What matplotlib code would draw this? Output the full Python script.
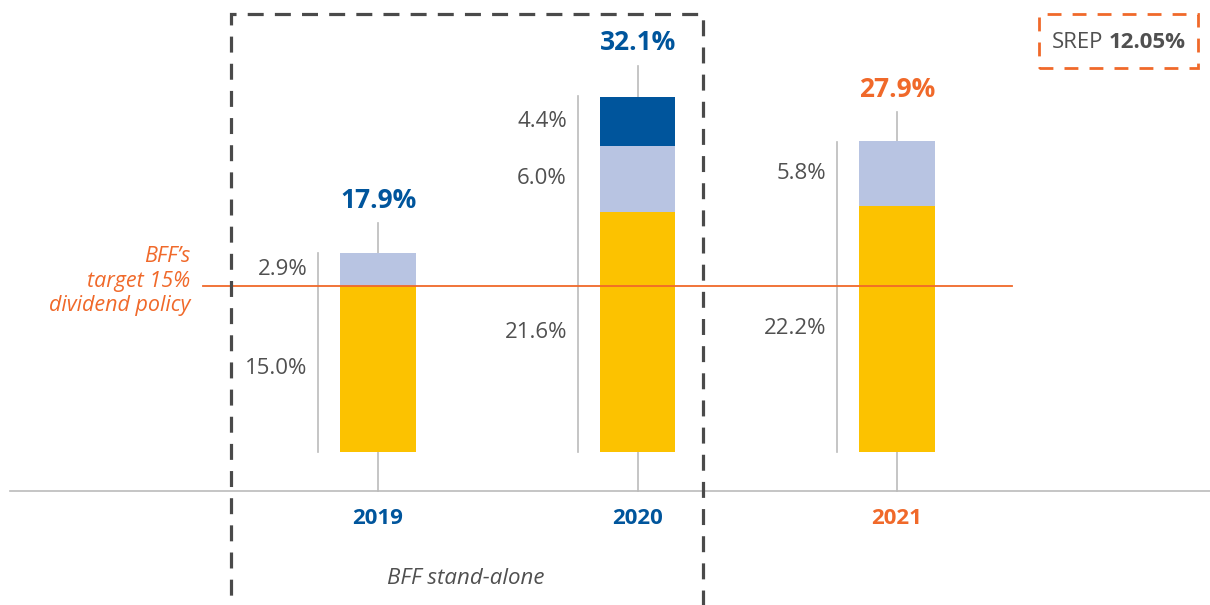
import matplotlib
matplotlib.use("Agg")
from matplotlib import pyplot as plt
from matplotlib.patches import Rectangle
import numpy as np

plt.rcParams['font.family'] = ['Open Sans', 'DejaVu Sans']

years = ['2019', '2020', '2021']
base = [15.0, 21.6, 22.2]
mid = [2.9, 6.0, 5.8]
top = [0.0, 4.4, 0.0]
totals = [17.9, 32.1, 27.9]
target = 15.0
srep = '12.05%'

YELLOW = '#FCC200'
LIGHT = '#B8C4E2'
DARK = '#00559C'
ORANGE = '#F0692A'
GREY_TXT = '#505050'
GREY_LN = '#BBBBBB'
year_colors = [DARK, DARK, ORANGE]

fig = plt.figure(figsize=(12.1, 6.05), dpi=100)
ax = fig.add_axes([0, 0, 1, 1])
ax.set_xlim(-1.457, 3.206)
ax.set_ylim(-13.78, 40.72)
ax.axis('off')

x = np.arange(len(years))
w = 0.29
axis_y = -3.5

# axis line
ax.plot([-1.42, 3.3], [axis_y, axis_y], color=GREY_LN, lw=1.2, zorder=1)

# center lines and bracket lines
for i in x:
    ax.plot([i, i], [axis_y, totals[i] + 2.7], color=GREY_LN, lw=1.2, zorder=1)
    bx = i - w / 2 - 0.085
    ax.plot([bx, bx], [0, totals[i]], color=GREY_LN, lw=1.2, zorder=1)

ax.bar(x, base, w, color=YELLOW, zorder=2)
ax.bar(x, mid, w, bottom=base, color=LIGHT, zorder=2)
b2 = np.array(base) + np.array(mid)
ax.bar(x, top, w, bottom=b2, color=DARK, zorder=2)

# segment labels
for i in x:
    lx = i - w / 2 - 0.085 - 0.042
    segs = [(0, base[i]), (base[i], mid[i]), (b2[i], top[i])]
    for bot, h in segs:
        if h > 0:
            ax.text(lx, bot + h / 2, f'{h:.1f}%', ha='right', va='center',
                    fontsize=16, color=GREY_TXT, zorder=3)
    ax.text(i, totals[i] + 4.8, f'{totals[i]:.1f}%', ha='center', va='center',
            fontsize=19, fontweight='bold', color=year_colors[i], zorder=3)
    ax.text(i, -6.0, years[i], ha='center', va='center', fontsize=16,
            fontweight='bold', color=year_colors[i], zorder=3)

# target line
ax.plot([-0.674, 2.443], [target, target], color=ORANGE, lw=1.3, zorder=4)
ax.text(-0.722, target + 0.4, "BFF\u2019s\ntarget 15%\ndividend policy", ha='right',
        va='center', fontsize=15.5, style='italic', color=ORANGE,
        linespacing=1.2, zorder=3)

# stand-alone dashed box
ax.add_patch(Rectangle((231 / 1210, -0.2), (703 - 231) / 1210, 1.2 - 14 / 605,
                       transform=ax.transAxes, fill=False, edgecolor='#4A4A4A',
                       lw=2.3, linestyle=(0, (5, 3.5)), clip_on=False, zorder=5))
ax.text(466 / 1210, 1 - 579 / 605, 'BFF stand-alone', transform=ax.transAxes,
        ha='center', va='center', fontsize=16, style='italic', color=GREY_TXT)

# SREP box
ax.add_patch(Rectangle((1039 / 1210, 1 - 68 / 605), 159 / 1210, 54 / 605,
                       transform=ax.transAxes, fill=False, edgecolor=ORANGE,
                       lw=2.0, linestyle=(0, (5, 4)), clip_on=False, zorder=5))
ax.text(1103 / 1210, 1 - 42 / 605, 'SREP', transform=ax.transAxes, ha='right',
        va='center', fontsize=16, color=GREY_TXT)
ax.text(1109 / 1210, 1 - 42 / 605, srep, transform=ax.transAxes, ha='left',
        va='center', fontsize=16, fontweight='bold', color=GREY_TXT)

fig.savefig('out.png', dpi=100)
